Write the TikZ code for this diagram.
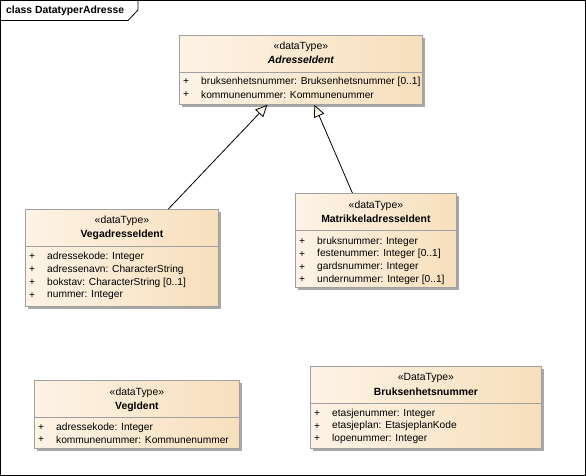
\documentclass[tikz,border=0pt]{standalone}
\usepackage{fontspec}
\setmainfont{Liberation Sans}
\usetikzlibrary{arrows.meta,shadows}

\definecolor{umlleft}{RGB}{253,243,230}
\definecolor{umlright}{RGB}{247,223,188}
\definecolor{umlline}{RGB}{160,160,160}
\definecolor{umlshadow}{RGB}{168,168,168}

\tikzset{
  classbox/.style={draw=umlline, line width=0.8pt, left color=umlleft, right color=umlright,
    anchor=north west, inner sep=0pt,
    general shadow={fill=umlshadow, shadow xshift=3pt, shadow yshift=-3pt}},
  divline/.style={draw=umlline, line width=0.8pt},
  stereo/.style={inner sep=0pt, font=\fontsize{10.4}{12}\selectfont},
  cname/.style={inner sep=0pt, font=\fontsize{10.4}{12}\selectfont\bfseries},
  absname/.style={cname, font=\fontsize{10.4}{12}\selectfont\bfseries\itshape},
  attr/.style={anchor=west, inner sep=0pt, font=\fontsize{10.2}{12}\selectfont},
  inherit/.style={draw=black, line width=0.8pt,
    -{Triangle[open, length=12pt, width=11pt, fill=umlleft]}},
}

\begin{document}
\begin{tikzpicture}[x=1pt, y=-1pt]
\useasboundingbox (0,0) rectangle (586,476);
% frame and tab
\draw[line width=0.8pt] (0.5,0.5) rectangle (585.5,475.5);
\draw[line width=0.8pt] (0.5,20.5) -- (128,20.5) -- (138,10) -- (138,0.5);
\node[cname, anchor=west] (title) at (6,10.5) {class DatatyperAdresse};

% AdresseIdent
\node[classbox, minimum width=243, minimum height=69] (adr) at (179,35) {};
\node[stereo] (adrst) at ([yshift=-11.5]adr.north) {«dataType»};
\node[absname] (adrnm) at ([yshift=-24.5]adr.north) {AdresseIdent};
\draw[divline] ([yshift=-37.5]adr.north west) -- ([yshift=-37.5]adr.north east);
\foreach \i/\txt in {0/{bruksenhetsnummer: Bruksenhetsnummer [0..1]}, 1/{kommunenummer: Kommunenummer}} {
  \node[attr] at ([xshift=4, yshift={-47-13*\i}]adr.north west) {+};
  \node[attr] at ([xshift=22, yshift={-47-13*\i}]adr.north west) {\txt};
}

% VegadresseIdent
\node[classbox, minimum width=193, minimum height=97] (veg) at (25,209) {};
\node[stereo] (vegst) at ([yshift=-12]veg.north) {«dataType»};
\node[cname] (vegnm) at ([yshift=-25.5]veg.north) {VegadresseIdent};
\draw[divline] ([yshift=-37]veg.north west) -- ([yshift=-37]veg.north east);
\foreach \i/\txt in {0/{adressekode: Integer}, 1/{adressenavn: CharacterString},
    2/{bokstav: CharacterString [0..1]}, 3/{nummer: Integer}} {
  \node[attr] at ([xshift=4, yshift={-48-12.8*\i}]veg.north west) {+};
  \node[attr] at ([xshift=22, yshift={-48-12.8*\i}]veg.north west) {\txt};
}

% MatrikkeladresseIdent
\node[classbox, minimum width=161, minimum height=94] (mat) at (295,193) {};
\node[stereo] (matst) at ([yshift=-12.5]mat.north) {«dataType»};
\node[cname] (matnm) at ([yshift=-25.5]mat.north) {MatrikkeladresseIdent};
\draw[divline] ([yshift=-37]mat.north west) -- ([yshift=-37]mat.north east);
\foreach \i/\txt in {0/{bruksnummer: Integer}, 1/{festenummer: Integer [0..1]},
    2/{gardsnummer: Integer}, 3/{undernummer: Integer [0..1]}} {
  \node[attr] at ([xshift=4, yshift={-48.5-12.8*\i}]mat.north west) {+};
  \node[attr] at ([xshift=22, yshift={-48.5-12.8*\i}]mat.north west) {\txt};
}

% VegIdent
\node[classbox, minimum width=205, minimum height=68] (vid) at (34,380) {};
\node[stereo] (vidst) at ([yshift=-13]vid.north) {«dataType»};
\node[cname] (vidnm) at ([yshift=-27]vid.north) {VegIdent};
\draw[divline] ([yshift=-37.5]vid.north west) -- ([yshift=-37.5]vid.north east);
\foreach \i/\txt in {0/{adressekode: Integer}, 1/{kommunenummer: Kommunenummer}} {
  \node[attr] at ([xshift=4, yshift={-47.5-12.5*\i}]vid.north west) {+};
  \node[attr] at ([xshift=22, yshift={-47.5-12.5*\i}]vid.north west) {\txt};
}

% Bruksenhetsnummer
\node[classbox, minimum width=231, minimum height=82] (bru) at (310,366) {};
\node[stereo] (brust) at ([yshift=-11.5]bru.north) {«DataType»};
\node[cname] (brunm) at ([yshift=-26]bru.north) {Bruksenhetsnummer};
\draw[divline] ([yshift=-37]bru.north west) -- ([yshift=-37]bru.north east);
\foreach \i/\txt in {0/{etasjenummer: Integer}, 1/{etasjeplan: EtasjeplanKode},
    2/{lopenummer: Integer}} {
  \node[attr] at ([xshift=4, yshift={-47.5-12.6*\i}]bru.north west) {+};
  \node[attr] at ([xshift=22, yshift={-47.5-12.6*\i}]bru.north west) {\txt};
}

% generalisations
\draw[inherit] ([xshift=46.5]veg.north) -- ([xshift=-33.5]adr.south);
\draw[inherit] ([xshift=-23.5]mat.north) -- ([xshift=13.5]adr.south);
\end{tikzpicture}
\end{document}
